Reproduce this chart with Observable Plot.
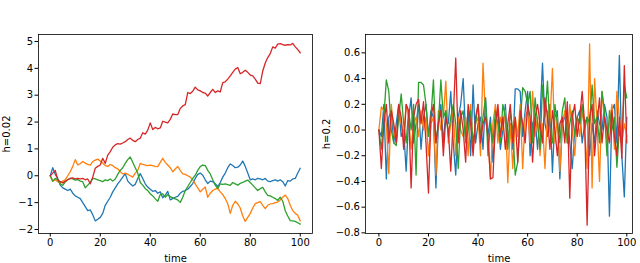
<!DOCTYPE html>
<html><head><meta charset="utf-8">
<script src="https://cdn.jsdelivr.net/npm/d3@7"></script>
<script src="https://cdn.jsdelivr.net/npm/@observablehq/plot@0.6"></script>
<style>
body{margin:0;background:#fff}
#c{display:flex;width:640px;height:263px;overflow:hidden}
</style>
</head><body><div id="c"></div>
<script>
const time = d3.range(0, 101);
const xTicks = [0, 20, 40, 60, 80, 100];
const colors = ["#1f77b4", "#ff7f0e", "#2ca02c", "#d62728"];

// Left panel: h=0.02
const leftBlue = [
0,0.3,0.05,-0.1,-0.35,-0.45,-0.5,-0.55,-0.5,-0.65,
-0.75,-0.8,-0.85,-1.0,-1.15,-1.3,-1.27,-1.45,-1.68,-1.62,
-1.55,-1.4,-1.1,-0.95,-0.8,-0.6,-0.45,-0.3,-0.18,-0.05,
0.08,-0.2,-0.3,-0.38,-0.32,-0.1,0.08,-0.1,-0.3,-0.42,
-0.5,-0.58,-0.55,-0.65,-0.6,-0.82,-0.72,-0.58,-0.9,-0.85,
-0.8,-0.77,-0.65,-0.58,-0.55,-0.5,-0.4,-0.29,-0.1,0.05,
0.1,0.02,-0.15,-0.29,-0.2,-0.22,-0.3,-0.4,-0.25,-0.05,
0.1,0.3,0.44,0.38,0.3,0.32,0.4,0.55,0.35,0.1,
-0.15,-0.12,-0.15,-0.1,-0.12,-0.15,-0.1,-0.2,-0.22,-0.18,
-0.15,-0.2,-0.15,-0.22,-0.38,-0.18,-0.2,-0.12,-0.1,0.1,
0.28];
const leftOrange = [
0,-0.2,-0.15,-0.22,-0.27,-0.2,-0.15,0.0,0.15,0.35,
0.6,0.4,0.45,0.53,0.47,0.42,0.4,0.53,0.58,0.62,
0.55,0.47,0.38,0.35,0.42,0.38,0.3,0.26,0.15,0.07,
0.1,0.05,0.0,-0.05,0.1,0.2,0.46,0.42,0.4,0.38,
0.4,0.38,0.35,0.34,0.5,0.65,0.5,0.4,0.3,0.15,
0.25,0.35,0.2,0.07,0.05,0.0,-0.05,-0.15,-0.3,-0.45,
-0.6,-0.5,-0.42,-0.8,-0.65,-0.55,-0.5,-0.47,-0.6,-0.7,
-0.85,-1.04,-1.4,-1.1,-0.95,-1.05,-1.2,-1.5,-1.7,-1.55,
-1.4,-1.2,-1.04,-1.0,-0.96,-1.1,-1.22,-1.1,-1.05,-1.04,
-1.0,-0.98,-0.9,-0.8,-0.72,-0.85,-1.1,-1.3,-1.4,-1.47,
-1.68];
const leftGreen = [
0,-0.2,-0.1,-0.15,-0.3,-0.36,-0.23,-0.15,-0.1,-0.12,
-0.16,-0.14,-0.2,-0.22,-0.45,-0.35,-0.25,-0.1,-0.12,-0.15,
-0.18,-0.22,-0.15,-0.18,-0.12,-0.2,-0.12,0.05,0.2,0.3,
0.46,0.6,0.7,0.5,0.3,0.1,-0.25,-0.35,-0.48,-0.55,
-0.67,-0.75,-0.86,-0.95,-0.7,-0.67,-0.8,-0.7,-0.78,-0.82,
-0.86,-0.9,-0.99,-0.8,-0.55,-0.4,-0.25,-0.1,0.02,0.2,
0.34,0.4,0.38,0.2,0.07,-0.15,-0.35,-0.48,-0.3,-0.32,
-0.3,-0.33,-0.36,-0.25,-0.3,-0.35,-0.28,-0.25,-0.2,-0.16,
-0.25,-0.35,-0.45,-0.55,-0.48,-0.43,-0.6,-0.73,-0.75,-0.8,
-0.85,-0.92,-0.8,-0.95,-1.3,-1.5,-1.67,-1.68,-1.7,-1.75,
-1.8];
const leftRed = [
0,0.1,0.2,-0.15,-0.22,-0.27,-0.2,-0.15,-0.1,-0.08,
-0.12,-0.1,-0.12,-0.1,-0.15,-0.12,-0.3,-0.05,0.28,0.35,
0.4,0.65,0.46,0.77,0.9,1.06,1.15,1.2,1.18,1.22,
1.27,1.35,1.4,1.32,1.27,1.35,1.4,1.6,1.55,1.7,
1.97,1.72,1.8,1.75,1.78,2.03,2.0,1.97,2.1,2.3,
2.28,2.28,2.5,2.6,2.65,3.1,3.06,3.15,3.3,3.2,
3.16,3.1,3.08,2.97,3.1,3.22,3.1,3.16,3.12,3.47,
3.5,3.6,3.72,3.85,3.97,4.03,3.8,3.85,3.93,3.85,
3.75,3.72,3.6,3.45,3.43,3.9,4.2,4.4,4.55,4.8,
4.75,4.9,4.92,4.88,4.86,4.88,4.87,4.93,4.8,4.7,
4.58];

// Right panel: h=0.2
const rightBlue = [
0.0,-0.05,0.2,-0.38,0.1,0.15,-0.1,0.05,0.2,-0.05,
0.0,-0.32,0.1,0.25,-0.1,0.05,0.2,-0.15,0.1,0.2,
-0.05,0.15,0.1,-0.45,0.05,0.2,-0.1,0.15,0.05,0.3,
-0.1,-0.35,0.1,0.2,0.4,-0.05,0.15,-0.2,0.35,-0.1,
0.05,0.1,-0.15,0.25,-0.05,0.1,-0.25,0.05,0.15,-0.15,
0.0,0.2,-0.1,0.05,-0.15,0.32,0.32,0.3,-0.05,0.15,
0.3,-0.2,0.05,0.1,-0.15,0.1,0.52,0.05,-0.05,0.2,
-0.33,0.1,0.15,-0.38,0.05,0.1,0.15,-0.1,-0.3,0.0,
0.1,0.15,-0.1,0.05,0.1,-0.2,0.05,-0.1,0.15,0.05,
0.0,0.2,0.1,-0.67,0.15,0.2,-0.1,0.58,-0.2,-0.52,
0.1];
const rightOrange = [
0.0,0.18,0.15,0.05,-0.34,0.2,0.0,-0.1,0.15,0.05,
-0.05,0.2,0.1,-0.15,0.05,0.1,-0.05,0.15,0.0,0.1,
-0.2,0.05,0.1,-0.35,0.15,0.0,0.1,0.38,-0.1,0.05,
0.15,-0.2,0.1,0.0,-0.05,0.1,-0.2,0.2,-0.15,0.05,
0.1,-0.2,0.52,0.1,-0.05,-0.38,0.05,0.2,-0.1,0.1,
0.0,0.15,-0.41,0.05,-0.3,0.1,-0.05,0.2,-0.3,0.1,
0.15,-0.1,0.3,-0.05,0.1,-0.2,0.05,-0.3,0.15,0.05,
0.48,-0.1,0.1,-0.32,0.05,0.15,-0.1,0.2,0.0,-0.2,
0.1,-0.05,0.15,0.0,-0.3,0.67,-0.45,0.4,0.05,-0.4,
0.3,0.1,-0.1,0.05,0.2,-0.15,0.3,0.1,-0.1,0.05,
-0.05];
const rightGreen = [
0.0,-0.15,0.1,0.39,0.3,0.0,-0.1,-0.12,0.1,0.28,
0.05,-0.1,0.15,0.0,0.2,-0.35,0.37,0.37,0.35,0.2,
-0.05,0.1,0.39,-0.1,0.05,0.39,0.1,0.15,-0.05,0.1,
0.2,0.05,-0.3,0.1,0.15,-0.1,0.0,0.15,-0.1,0.05,
0.2,-0.05,0.1,0.25,-0.2,0.05,-0.1,0.15,0.05,-0.1,
0.2,0.1,-0.15,0.15,0.0,-0.35,-0.25,0.05,0.33,0.3,
0.2,0.3,-0.1,0.25,0.05,-0.15,0.35,0.1,0.38,0.0,
-0.1,0.2,0.05,-0.1,0.15,0.25,-0.1,0.05,0.15,-0.05,
0.1,0.05,0.2,0.0,0.1,0.05,0.35,0.05,0.1,-0.1,
0.3,0.15,-0.2,0.15,0.0,0.1,-0.29,0.0,-0.1,0.35,
0.25];
const rightRed = [
0.0,-0.3,0.05,0.2,-0.1,0.15,0.05,-0.1,0.2,0.1,
-0.15,0.2,0.15,-0.45,0.1,0.2,0.24,0.05,0.22,-0.1,
-0.49,0.1,0.2,-0.1,0.05,0.15,-0.2,0.1,0.0,-0.32,
0.1,0.56,-0.1,0.15,0.0,-0.25,0.2,0.05,-0.2,0.1,
0.2,-0.1,0.05,0.1,-0.05,-0.38,-0.37,0.05,0.2,-0.05,
0.1,-0.15,0.05,0.2,-0.1,0.1,-0.25,0.15,0.05,-0.1,
0.2,0.1,-0.25,0.1,0.2,0.05,-0.1,0.25,0.1,-0.15,
0.15,0.0,-0.2,0.05,0.1,-0.1,0.22,-0.53,0.1,0.2,
-0.05,0.1,0.3,0.05,-0.74,0.1,0.2,-0.2,0.05,0.25,
-0.1,0.1,0.0,-0.1,0.15,-0.05,-0.2,0.1,-0.22,0.5,
-0.1];

const leftTicks = [-2, -1, 0, 1, 2, 3, 4, 5];
const rightTicks = [-0.8, -0.6, -0.4, -0.2, 0.0, 0.2, 0.4, 0.6];

function panel({series, ml, xDomain, yDomain, yTicks, yFmt, ylabel, labelOffset}) {
  const marks = series.map((vals, k) =>
    Plot.lineY(vals.map((v, i) => ({t: time[i], v})), {x: "t", y: "v", stroke: colors[k], strokeWidth: 1.3})
  );
  return Plot.plot({
    width: 320, height: 263,
    marginLeft: ml, marginRight: 8, marginTop: 34, marginBottom: 30,
    style: {fontFamily: "DejaVu Sans", fontSize: "10px", background: "white", color: "black"},
    x: {domain: xDomain},
    y: {domain: yDomain},
    marks: [
      ...marks,
      Plot.frame({stroke: "black", strokeWidth: 0.8}),
      Plot.axisX({ticks: xTicks, tickSize: 3.5, tickPadding: 2, label: "time", labelAnchor: "center", labelOffset: 28, labelArrow: "none"}),
      Plot.axisY({ticks: yTicks, tickFormat: yFmt, tickSize: 3.5, tickPadding: 2, label: ylabel, labelAnchor: "center", labelOffset: labelOffset, labelArrow: "none"})
    ]
  });
}

const c = document.getElementById("c");
c.appendChild(panel({
  series: [leftBlue, leftOrange, leftGreen, leftRed],
  ml: 38, xDomain: [-4.7, 104.9], yDomain: [-2.15, 5.26], yTicks: leftTicks, yFmt: d3.format("d"), ylabel: "h=0.02", labelOffset: 36
}));
c.appendChild(panel({
  series: [rightBlue, rightOrange, rightGreen, rightRed],
  ml: 45, xDomain: [-5.4, 102.3], yDomain: [-0.805, 0.743], yTicks: rightTicks, yFmt: d3.format(".1f"), ylabel: "h=0.2", labelOffset: 43
}));
</script></body></html>
